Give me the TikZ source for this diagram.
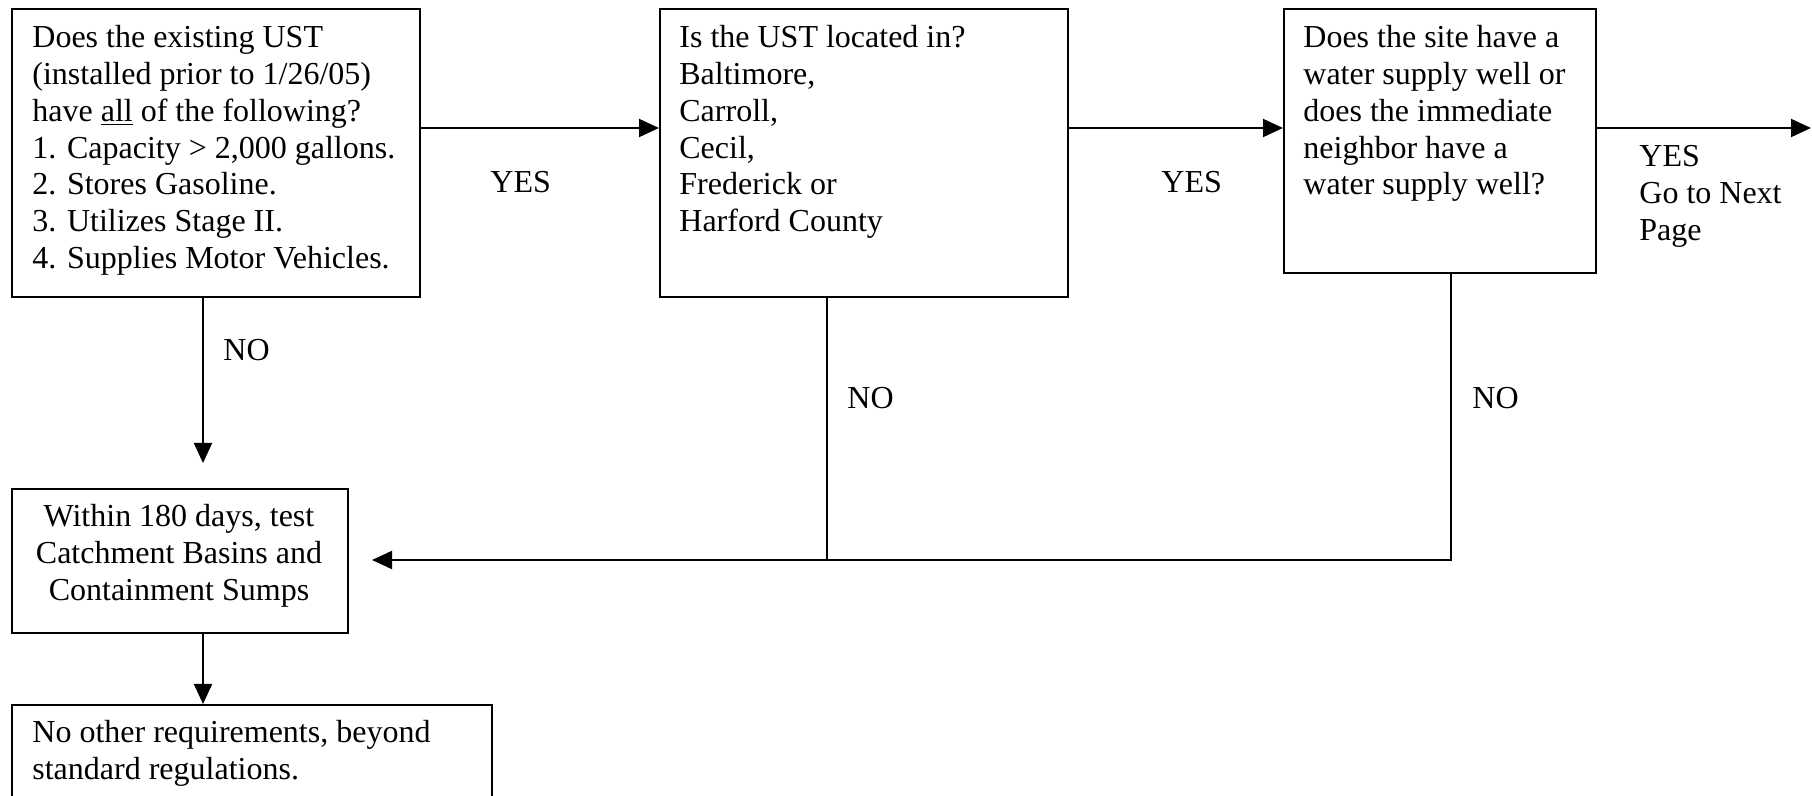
\documentclass[tikz,border=0pt]{standalone}
\usepackage{fontspec}
\setmainfont{Liberation Serif}
\usetikzlibrary{arrows.meta}
\begin{document}
\begin{tikzpicture}[x=0.5pt,y=-0.5pt,
  box/.style={draw, line width=1pt, inner sep=0pt, anchor=north west},
  txt/.style={inner sep=0pt, anchor=base west, font=\fontsize{16}{18.35}\selectfont},
  ctxt/.style={inner sep=0pt, anchor=base, font=\fontsize{16}{18.35}\selectfont},
  arr/.style={line width=1pt, -{Triangle[length=10pt,width=9pt]}},
  conn/.style={line width=1pt}]
\clip (0,0) rectangle (1812,796);
% boxes
\node[box, minimum width=204pt, minimum height=144pt] (q1) at (11,8) {};
\node[box, minimum width=204pt, minimum height=144pt] (q2) at (659,8) {};
\node[box, minimum width=156pt, minimum height=132pt] (q3) at (1283,8) {};
\node[box, minimum width=168pt, minimum height=72pt] (a4) at (11,488) {};
\node[box, minimum width=240pt, minimum height=70pt] (a5) at (11,704) {};
% box texts
\node[txt] (q1t) at (32,48) {\parbox[t]{250pt}{Does the existing UST\\
(installed prior to 1/26/05)\\
have \underline{all} of the following?\\
1. Capacity > 2,000 gallons.\\
2. Stores Gasoline.\\
3. Utilizes Stage II.\\
4. Supplies Motor Vehicles.}};
\node[txt] (q2t) at (679,48) {\parbox[t]{250pt}{Is the UST located in?\\
Baltimore,\\
Carroll,\\
Cecil,\\
Frederick or\\
Harford County}};
\node[txt] (q3t) at (1303,48) {\parbox[t]{250pt}{Does the site have a\\
water supply well or\\
does the immediate\\
neighbor have a\\
water supply well?}};
\node[ctxt] (a4t) at (179,527) {\parbox[t]{200pt}{\centering Within 180 days, test\\
Catchment Basins and\\
Containment Sumps}};
\node[txt] (a5t) at (32,743) {\parbox[t]{300pt}{No other requirements, beyond\\
standard regulations.}};
% coordinates
\coordinate (nextpage) at (1811,128);
\coordinate (n1end) at (203,463);
\coordinate (j2) at (827,560);
\coordinate (j3) at (1451,560);
\coordinate (a4in) at (372,560);
% connectors
\draw[arr] ([yshift=-60pt]q1.north east) -- ([yshift=-60pt]q2.north west);
\draw[arr] ([yshift=-60pt]q2.north east) -- ([yshift=-60pt]q3.north west);
\draw[arr] ([yshift=-60pt]q3.north east) -- (nextpage);
\draw[arr] (q1.south -| n1end) -- (n1end);
\draw[conn] (q2.south -| j2) -- (j2);
\draw[arr] (q3.south -| j3) -- (j3) -- (a4in);
\draw[arr] (a4.south -| n1end) -- (a5.north -| n1end);
% labels
\node[txt] (yes1) at (490,193) {YES};
\node[txt] (yes2) at (1161,193) {YES};
\node[txt] (yes3) at (1639,167) {\parbox[t]{120pt}{YES\\Go to Next\\Page}};
\node[txt] (no1) at (223,361) {NO};
\node[txt] (no2) at (847,409) {NO};
\node[txt] (no3) at (1472,409) {NO};
\end{tikzpicture}
\end{document}
